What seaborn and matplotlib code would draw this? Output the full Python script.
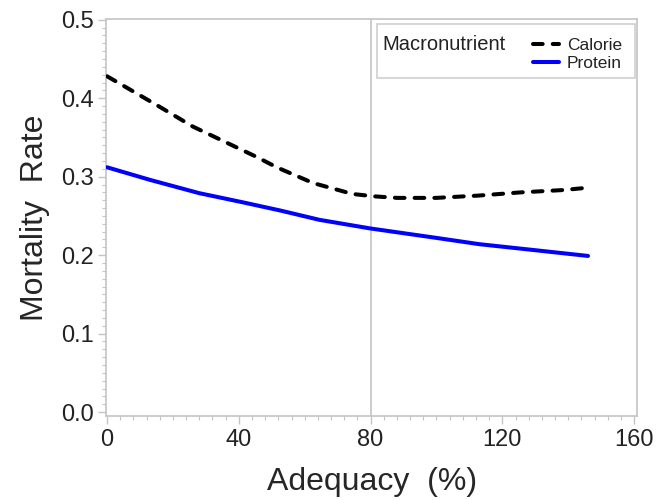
import numpy as np
import pandas as pd
import seaborn as sns
import matplotlib.pyplot as plt
from matplotlib.patches import Rectangle

# values
calorie_x = [0, 7, 16, 26, 36.5, 45.5, 51.5, 62.5, 74.5, 81, 88, 100, 113, 125.5, 138.5, 146]
calorie_y = [0.428, 0.411, 0.389, 0.364, 0.343, 0.325, 0.312, 0.292, 0.278, 0.275, 0.273,
             0.273, 0.276, 0.280, 0.283, 0.286]
protein_x = [0, 13, 28, 40.5, 52.5, 64.5, 80, 100, 113, 128.5, 146]
protein_y = [0.312, 0.296, 0.279, 0.268, 0.257, 0.245, 0.234, 0.222, 0.214, 0.207, 0.199]
x_ticks = [0, 40, 80, 120, 160]
y_ticks = [0.0, 0.1, 0.2, 0.3, 0.4, 0.5]
ref_x = 80

df = pd.concat([
    pd.DataFrame({'Adequacy': calorie_x, 'Rate': calorie_y, 'Macronutrient': 'Calorie'}),
    pd.DataFrame({'Adequacy': protein_x, 'Rate': protein_y, 'Macronutrient': 'Protein'}),
], ignore_index=True)

sns.set_style('white')
plt.rcParams['font.family'] = ['Liberation Sans', 'DejaVu Sans']

fig = plt.figure(figsize=(6.65, 5), dpi=100)
ax = fig.add_axes([0.1595, 0.168, 0.7985, 0.794])

grey = '#c4c4c4'
ax.axvline(ref_x, color=grey, lw=1.2, zorder=1)

sns.lineplot(data=df, x='Adequacy', y='Rate', hue='Macronutrient', style='Macronutrient',
             palette={'Calorie': 'black', 'Protein': '#0000FF'},
             dashes={'Calorie': (2.4, 2.5), 'Protein': ''},
             lw=2.9, legend=False, ax=ax, zorder=3)
for ln in ax.lines[1:]:
    ln.set_solid_capstyle('round')
    ln.set_dash_capstyle('round')
    ln.set_solid_joinstyle('round')

ax.set_xlim(-0.3, 160.9)
ax.set_ylim(-0.005, 0.501)
ax.set_xticks(x_ticks)
ax.set_yticks(y_ticks)
ax.set_yticklabels(['%.1f' % v for v in y_ticks])
ax.set_xticks(np.arange(0, 161, 4), minor=True)
ax.set_yticks(np.arange(0, 0.501, 0.01), minor=True)
ax.tick_params(axis='both', which='major', direction='out', length=6, width=1, color=grey,
               labelsize=17, labelcolor='#222222', pad=3)
ax.tick_params(axis='both', which='minor', direction='out', length=3, width=0.8, color=grey)
ax.tick_params(axis='x', which='both', bottom=True)
ax.tick_params(axis='y', which='both', left=True)
for s in ax.spines.values():
    s.set_color(grey)
    s.set_linewidth(1.2)

ax.set_xlabel('Adequacy  (%)', fontsize=23, labelpad=12)
ax.set_ylabel('Mortality  Rate', fontsize=23, labelpad=8)

# legend box with the title to the left of the entries
ax.add_patch(Rectangle((0.510, 0.851), 0.486, 0.136, transform=ax.transAxes,
                       fill=False, edgecolor='#d0d0d0', lw=1.2, zorder=4))
ax.text(0.521, 0.935, 'Macronutrient', transform=ax.transAxes, fontsize=14.5,
        va='center', ha='left', color='#222222', zorder=5)
leg = ax.legend(handles=ax.lines[1:], labels=['Calorie', 'Protein'], loc='upper right',
                bbox_to_anchor=(0.972, 0.953), frameon=False, fontsize=12.5,
                handlelength=1.5, handletextpad=0.45, labelspacing=0.2, borderaxespad=0,
                borderpad=0)
for t in leg.get_texts():
    t.set_color('#222222')

fig.savefig('out.png', dpi=100)
